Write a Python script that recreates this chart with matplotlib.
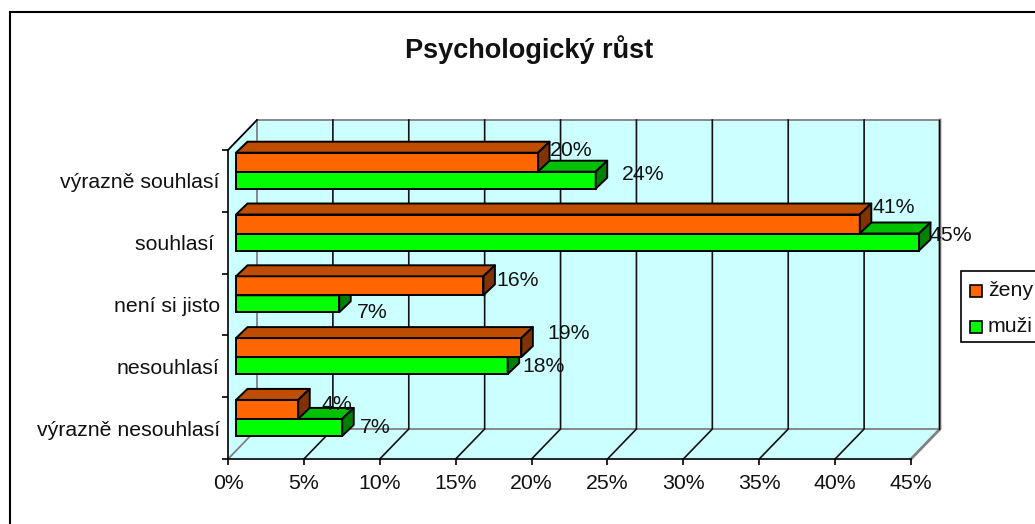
import matplotlib
matplotlib.use('Agg')
import matplotlib.pyplot as plt
from matplotlib.patches import Polygon, Rectangle

plt.rcParams['font.family'] = ['Liberation Sans', 'DejaVu Sans']

title = 'Psychologický růst'
categories = ['výrazně souhlasí', 'souhlasí ', 'není si jisto', 'nesouhlasí', 'výrazně nesouhlasí']
zeny = [19.9, 41.1, 16.3, 18.8, 4.1]
muzi = [23.7, 45.0, 6.8, 17.9, 7.0]
x_ticks = [0, 5, 10, 15, 20, 25, 30, 35, 40, 45]

W, H = 1035, 524
FS = 15.3
# label nudges in pixels, the 3d bars push them around
zeny_nudge = [(12, 2), (13, 7), (13, -4), (26, 5), (23, -5)]
muzi_nudge = [(26, -3), (11, -2), (18, -17), (15, -9), (18, -9)]

fig = plt.figure(figsize=(W / 100, H / 100), dpi=100)
# frame runs off the right and bottom edges
fig.add_artist(Rectangle((9.5 / W, -20 / H), 1040 / W, (H - 12 + 20) / H, transform=fig.transFigure,
                         fc='white', ec='black', lw=1.5, zorder=-1))

# the axes are the front plane of the 3d box
left, right, top, bottom = 228, 911, 150, 459
ax = fig.add_axes([left / W, 1 - bottom / H, (right - left) / W, (bottom - top) / H])
ax.set_xlim(0, 45)
ax.set_ylim(5, 0)
ax.patch.set_alpha(0)
px_x = 45 / (right - left)
px_y = 5 / (bottom - top)

# depth of the box and of one bar, in data units
box_dx, box_dy = 29 * px_x, 30 * px_y
bar_dx, bar_dy = 11.5 * px_x, 11 * px_y
bar_x0 = 8 * px_x
bar_h_z = 19 * px_y
bar_h_m = 17 * px_y
group_mid = 21.7 * px_y

wall = '#CCFFFF'
ax.add_patch(Polygon([(0, 0), (box_dx, -box_dy), (box_dx, 5 - box_dy), (0, 5)],
                     fc=wall, ec='none', clip_on=False, zorder=0))
ax.add_patch(Polygon([(box_dx, -box_dy), (45 + box_dx, -box_dy), (45 + box_dx, 5 - box_dy), (box_dx, 5 - box_dy)],
                     fc=wall, ec='none', clip_on=False, zorder=0))
ax.add_patch(Polygon([(0, 5), (box_dx, 5 - box_dy), (45 + box_dx, 5 - box_dy), (45, 5)],
                     fc=wall, ec='none', clip_on=False, zorder=0))

# gridlines on the back wall and floor
grey = '#808080'
ax.plot([0, box_dx, box_dx], [5, 5 - box_dy, -box_dy], color=grey, lw=1.3, clip_on=False, zorder=1)
ax.plot([box_dx, 45 + box_dx], [5 - box_dy, 5 - box_dy], color=grey, lw=1.3, clip_on=False, zorder=1)
ax.plot([box_dx, 45 + box_dx], [-box_dy, -box_dy], color=grey, lw=1.3, clip_on=False, zorder=1)
ax.plot([45, 45 + box_dx, 45 + box_dx], [5, 5 - box_dy, -box_dy], color=grey, lw=2, clip_on=False, zorder=1)
ax.plot([45 + box_dx - 1.2 * px_x] * 2, [-box_dy, 5 - box_dy], color='black', lw=1, clip_on=False, zorder=1)
ax.plot([0, box_dx], [0, -box_dy], color='black', lw=1.3, clip_on=False, zorder=1)
for t in x_ticks[1:-1]:
    ax.plot([t, t + box_dx, t + box_dx], [5, 5 - box_dy, -box_dy], color='#111111', lw=1.2, clip_on=False, zorder=1)


def bar3d(value, y0, h, front, top_c, side_c, z):
    x0 = bar_x0
    x1 = bar_x0 + value
    kw = dict(ec='black', lw=1.4, clip_on=False, zorder=z, joinstyle='round')
    ax.barh(y0 + h / 2, value, height=h, left=x0, color=front, edgecolor='black', linewidth=1.4, clip_on=False, zorder=z)
    ax.add_patch(Polygon([(x0, y0), (x0 + bar_dx, y0 - bar_dy), (x1 + bar_dx, y0 - bar_dy), (x1, y0)], fc=top_c, **kw))
    ax.add_patch(Polygon([(x1, y0), (x1 + bar_dx, y0 - bar_dy), (x1 + bar_dx, y0 + h - bar_dy), (x1, y0 + h)], fc=side_c, **kw))


for i in range(len(categories)):
    mid = i + group_mid
    bar3d(muzi[i], mid, bar_h_m, '#00FF00', '#00C000', '#008000', 3)
    bar3d(zeny[i], mid - bar_h_z, bar_h_z, '#FF6600', '#BF4D00', '#803300', 4)
    ax.annotate(f'{zeny[i]:.0f}%', (bar_x0 + zeny[i], mid - bar_h_z), xytext=zeny_nudge[i], textcoords='offset pixels',
                ha='left', va='center', fontsize=FS, color='#111111', zorder=6, annotation_clip=False)
    ax.annotate(f'{muzi[i]:.0f}%', (bar_x0 + muzi[i], mid), xytext=muzi_nudge[i], textcoords='offset pixels',
                ha='left', va='center', fontsize=FS, color='#111111', zorder=6, annotation_clip=False)

for s in ['top', 'right']:
    ax.spines[s].set_visible(False)
for s in ['left', 'bottom']:
    ax.spines[s].set_linewidth(1.2)
    ax.spines[s].set_zorder(2)
ax.set_xticks(x_ticks)
ax.set_xticklabels([f'{t}%' for t in x_ticks], fontsize=FS, color='#111111')
ax.set_yticks(range(6))
ax.set_yticklabels([])
ax.set_yticks([i + 0.5 for i in range(5)], minor=True)
ax.set_yticklabels(categories, minor=True, fontsize=FS, color='#111111')
ax.tick_params(axis='x', length=4, width=1.2, pad=7)
ax.tick_params(axis='y', which='major', length=4, width=1.2)
ax.tick_params(axis='y', which='minor', length=0, pad=6)

fig.text(529 / W, 1 - 50 / H, title, fontsize=19.5, fontweight='bold', ha='center', va='center', color='#111111')

# legend box is cut by the right edge as well
fig.add_artist(Rectangle((961 / W, 1 - 342 / H), 90 / W, 71 / H, transform=fig.transFigure,
                         fc='white', ec='black', lw=1.2))
for name, color, y in [('ženy', '#FF6600', 291), ('muži', '#00FF00', 327)]:
    fig.add_artist(Rectangle((970 / W, 1 - (y + 6) / H), 12 / W, 12 / H, transform=fig.transFigure,
                             fc=color, ec='black', lw=1.2))
    fig.text(988 / W, 1 - y / H, name, fontsize=FS, va='center', ha='left', color='#111111')

fig.savefig('out.png', dpi=100)
